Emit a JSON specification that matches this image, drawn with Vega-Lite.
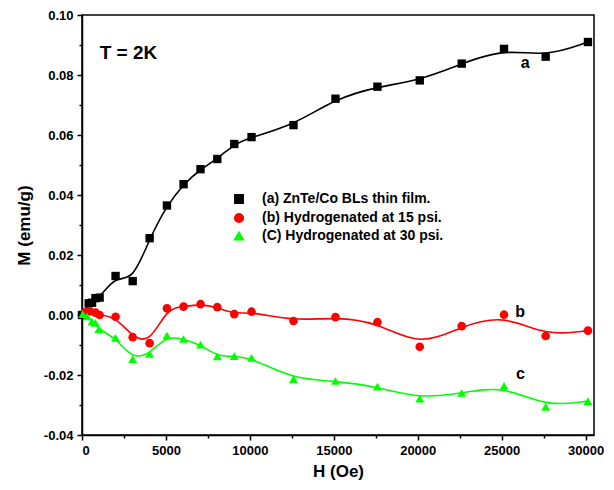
{
  "$schema": "https://vega.github.io/schema/vega-lite/v6.json",
  "width": 512,
  "height": 420,
  "autosize": {"type": "none"},
  "padding": {"left": 82, "top": 15, "right": 20, "bottom": 55},
  "background": "white",
  "config": {
    "view": {"stroke": "#000000", "strokeWidth": 1.5},
    "font": "Liberation Sans"
  },
  "datasets": {
    "curves": [
      {"series": "(a) ZnTe/Co BLs thin film.", "H": 0, "M": 0.0},
      {"series": "(a) ZnTe/Co BLs thin film.", "H": 400, "M": 0.0039},
      {"series": "(a) ZnTe/Co BLs thin film.", "H": 600, "M": 0.0041},
      {"series": "(a) ZnTe/Co BLs thin film.", "H": 800, "M": 0.0056},
      {"series": "(a) ZnTe/Co BLs thin film.", "H": 1050, "M": 0.0058},
      {"series": "(a) ZnTe/Co BLs thin film.", "H": 2000, "M": 0.013},
      {"series": "(a) ZnTe/Co BLs thin film.", "H": 3020, "M": 0.0113},
      {"series": "(a) ZnTe/Co BLs thin film.", "H": 4030, "M": 0.0256},
      {"series": "(a) ZnTe/Co BLs thin film.", "H": 5060, "M": 0.0365},
      {"series": "(a) ZnTe/Co BLs thin film.", "H": 6050, "M": 0.0436},
      {"series": "(a) ZnTe/Co BLs thin film.", "H": 7060, "M": 0.0486},
      {"series": "(a) ZnTe/Co BLs thin film.", "H": 8060, "M": 0.052},
      {"series": "(a) ZnTe/Co BLs thin film.", "H": 9070, "M": 0.057},
      {"series": "(a) ZnTe/Co BLs thin film.", "H": 10100, "M": 0.0593},
      {"series": "(a) ZnTe/Co BLs thin film.", "H": 12600, "M": 0.0633},
      {"series": "(a) ZnTe/Co BLs thin film.", "H": 15100, "M": 0.0721},
      {"series": "(a) ZnTe/Co BLs thin film.", "H": 17600, "M": 0.0761},
      {"series": "(a) ZnTe/Co BLs thin film.", "H": 20120, "M": 0.0782},
      {"series": "(a) ZnTe/Co BLs thin film.", "H": 22620, "M": 0.0838},
      {"series": "(a) ZnTe/Co BLs thin film.", "H": 25140, "M": 0.0887},
      {"series": "(a) ZnTe/Co BLs thin film.", "H": 27620, "M": 0.0861},
      {"series": "(a) ZnTe/Co BLs thin film.", "H": 30140, "M": 0.091},
      {"series": "(b) Hydrogenated at 15 psi.", "H": 200, "M": 0.001},
      {"series": "(b) Hydrogenated at 15 psi.", "H": 450, "M": 0.0012},
      {"series": "(b) Hydrogenated at 15 psi.", "H": 800, "M": 0.0008},
      {"series": "(b) Hydrogenated at 15 psi.", "H": 1050, "M": 0.0},
      {"series": "(b) Hydrogenated at 15 psi.", "H": 2000, "M": -0.0006},
      {"series": "(b) Hydrogenated at 15 psi.", "H": 3020, "M": -0.0074},
      {"series": "(b) Hydrogenated at 15 psi.", "H": 4030, "M": -0.0094},
      {"series": "(b) Hydrogenated at 15 psi.", "H": 5060, "M": 0.0022},
      {"series": "(b) Hydrogenated at 15 psi.", "H": 6050, "M": 0.0028},
      {"series": "(b) Hydrogenated at 15 psi.", "H": 7060, "M": 0.0036},
      {"series": "(b) Hydrogenated at 15 psi.", "H": 8060, "M": 0.0026},
      {"series": "(b) Hydrogenated at 15 psi.", "H": 9070, "M": 0.0003},
      {"series": "(b) Hydrogenated at 15 psi.", "H": 10100, "M": 0.0011},
      {"series": "(b) Hydrogenated at 15 psi.", "H": 12600, "M": -0.002},
      {"series": "(b) Hydrogenated at 15 psi.", "H": 15100, "M": -0.0007},
      {"series": "(b) Hydrogenated at 15 psi.", "H": 17600, "M": -0.0024},
      {"series": "(b) Hydrogenated at 15 psi.", "H": 20120, "M": -0.0106},
      {"series": "(b) Hydrogenated at 15 psi.", "H": 22620, "M": -0.0037},
      {"series": "(b) Hydrogenated at 15 psi.", "H": 25140, "M": 0.0001},
      {"series": "(b) Hydrogenated at 15 psi.", "H": 27620, "M": -0.007},
      {"series": "(b) Hydrogenated at 15 psi.", "H": 30140, "M": -0.0052},
      {"series": "(C) Hydrogenated at 30 psi.", "H": 50, "M": 0.0003},
      {"series": "(C) Hydrogenated at 30 psi.", "H": 300, "M": -0.0005},
      {"series": "(C) Hydrogenated at 30 psi.", "H": 600, "M": -0.0022},
      {"series": "(C) Hydrogenated at 30 psi.", "H": 800, "M": -0.0026},
      {"series": "(C) Hydrogenated at 30 psi.", "H": 1000, "M": -0.0048},
      {"series": "(C) Hydrogenated at 30 psi.", "H": 2000, "M": -0.0076},
      {"series": "(C) Hydrogenated at 30 psi.", "H": 3020, "M": -0.0147},
      {"series": "(C) Hydrogenated at 30 psi.", "H": 4030, "M": -0.013},
      {"series": "(C) Hydrogenated at 30 psi.", "H": 5060, "M": -0.0069},
      {"series": "(C) Hydrogenated at 30 psi.", "H": 6050, "M": -0.008},
      {"series": "(C) Hydrogenated at 30 psi.", "H": 7060, "M": -0.0099},
      {"series": "(C) Hydrogenated at 30 psi.", "H": 8060, "M": -0.0138},
      {"series": "(C) Hydrogenated at 30 psi.", "H": 9070, "M": -0.0137},
      {"series": "(C) Hydrogenated at 30 psi.", "H": 10100, "M": -0.0143},
      {"series": "(C) Hydrogenated at 30 psi.", "H": 12600, "M": -0.0214},
      {"series": "(C) Hydrogenated at 30 psi.", "H": 15100, "M": -0.022},
      {"series": "(C) Hydrogenated at 30 psi.", "H": 17600, "M": -0.0239},
      {"series": "(C) Hydrogenated at 30 psi.", "H": 20120, "M": -0.0279},
      {"series": "(C) Hydrogenated at 30 psi.", "H": 22620, "M": -0.026},
      {"series": "(C) Hydrogenated at 30 psi.", "H": 25140, "M": -0.0236},
      {"series": "(C) Hydrogenated at 30 psi.", "H": 27620, "M": -0.0306},
      {"series": "(C) Hydrogenated at 30 psi.", "H": 30140, "M": -0.0287}
    ],
    "notes": [
      {"H": 26400, "M": 0.0841, "text": "a"},
      {"H": 26100, "M": 0.0011, "text": "b"},
      {"H": 26120, "M": -0.0198, "text": "c"}
    ],
    "temp": [
      {"H": 1050, "M": 0.0872, "text": "T = 2K"}
    ]
  },
  "encoding": {
    "x": {
      "field": "H", "type": "quantitative",
      "scale": {"domain": [0, 30500], "nice": false, "zero": false},
      "axis": {
        "title": "H (Oe)",
        "titleFont": "Liberation Sans", "titleFontSize": 17, "titleFontWeight": "bold", "titleColor": "#000000", "titlePadding": 6,
        "values": [0, 2500, 5000, 7500, 10000, 12500, 15000, 17500, 20000, 22500, 25000, 27500, 30000],
        "labelExpr": "datum.value % 5000 == 0 ? format(datum.value, 'd') : ''",
        "labelFont": "Liberation Sans", "labelFontSize": 13, "labelFontWeight": "bold", "labelColor": "#000000",
        "labelOverlap": false, "labelPadding": 4,
        "grid": false,
        "domainColor": "#000000", "domainWidth": 1.5,
        "tickColor": "#000000", "tickWidth": 1.5,
        "tickSize": {"condition": {"test": "datum.value % 5000 == 0", "value": 5}, "value": 3}
      }
    },
    "y": {
      "field": "M", "type": "quantitative",
      "scale": {"domain": [-0.04, 0.1], "nice": false, "zero": false},
      "axis": {
        "title": "M (emu/g)",
        "titleFont": "Liberation Sans", "titleFontSize": 17, "titleFontWeight": "bold", "titleColor": "#000000", "titlePadding": 10,
        "values": [-0.04, -0.03, -0.02, -0.01, 0, 0.01, 0.02, 0.03, 0.04, 0.05, 0.06, 0.07, 0.08, 0.09, 0.1],
        "labelExpr": "round(datum.value * 100) % 2 == 0 ? replace(format(datum.value, '.2f'), '\u2212', '-') : ''",
        "labelFont": "Liberation Sans", "labelFontSize": 13, "labelFontWeight": "bold", "labelColor": "#000000",
        "labelOverlap": false, "labelPadding": 4,
        "grid": false,
        "domainColor": "#000000", "domainWidth": 1.5,
        "tickColor": "#000000", "tickWidth": 1.5,
        "tickSize": {"condition": {"test": "round(datum.value * 100) % 2 == 0", "value": 5}, "value": 3}
      }
    }
  },
  "layer": [
    {
      "data": {"name": "curves"},
      "encoding": {
        "color": {
          "field": "series", "type": "nominal",
          "scale": {"domain": ["(a) ZnTe/Co BLs thin film.", "(b) Hydrogenated at 15 psi.", "(C) Hydrogenated at 30 psi."], "range": ["#000000", "#ff0000", "#00ff00"]},
          "legend": {
            "orient": "none", "legendX": 150, "legendY": 177, "title": null,
            "labelFont": "Liberation Sans", "labelFontSize": 14, "labelFontWeight": "bold", "labelColor": "#000000",
            "labelOffset": 16, "rowPadding": 3, "labelLimit": 400
          }
        }
      },
      "layer": [
        {
          "mark": {"type": "line", "interpolate": "basis", "strokeWidth": 1.6},
          "encoding": {"detail": {"field": "series", "type": "nominal"}}
        },
        {
          "mark": {"type": "point", "filled": true, "opacity": 1, "strokeWidth": 0},
          "encoding": {
            "shape": {
              "field": "series", "type": "nominal",
              "scale": {"domain": ["(a) ZnTe/Co BLs thin film.", "(b) Hydrogenated at 15 psi.", "(C) Hydrogenated at 30 psi."], "range": ["square", "circle", "triangle-up"]},
              "legend": null
            },
            "size": {
              "field": "series", "type": "nominal",
              "scale": {"domain": ["(a) ZnTe/Co BLs thin film.", "(b) Hydrogenated at 15 psi.", "(C) Hydrogenated at 30 psi."], "range": [70, 80, 110]},
              "legend": null
            }
          }
        }
      ]
    },
    {
      "data": {"name": "notes"},
      "mark": {"type": "text", "font": "Liberation Sans", "fontSize": 16, "fontWeight": "bold", "color": "#000000", "align": "center", "baseline": "middle"},
      "encoding": {"text": {"field": "text"}}
    },
    {
      "data": {"name": "temp"},
      "mark": {"type": "text", "font": "Liberation Sans", "fontSize": 19, "fontWeight": "bold", "color": "#000000", "align": "left", "baseline": "middle"},
      "encoding": {"text": {"field": "text"}}
    }
  ]
}
